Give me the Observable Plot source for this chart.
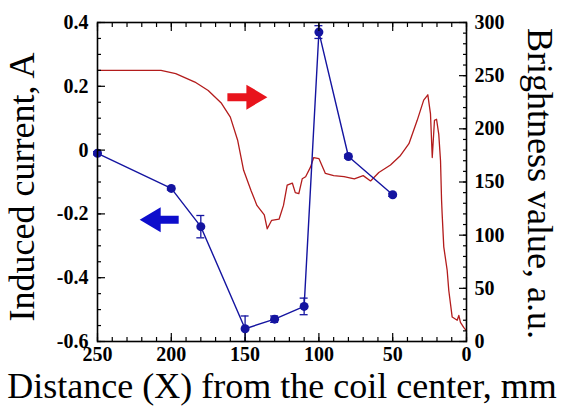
<!DOCTYPE html>
<html><head><meta charset="utf-8">
<script src="https://cdn.jsdelivr.net/npm/d3@7"></script>
<script src="https://cdn.jsdelivr.net/npm/@observablehq/plot@0.6"></script>
<style>body{margin:0;background:#fff} svg{display:block}</style>
</head><body><div id="chart"></div>
<script>
// Induced current (left axis)
const currentX = [250, 200, 180, 150, 130, 110, 100, 80, 50];
const currentY = [-0.01, -0.12, -0.24, -0.56, -0.53, -0.49, 0.37, -0.02, -0.14];
const currentErr = [0.005, 0.005, 0.035, 0.04, 0.01, 0.026, 0.02, 0.005, 0.005];

// Brightness value (right axis)
const brightX = [250, 207, 197, 184, 175, 166, 160, 155, 151, 146, 142, 137, 135, 132, 127, 124, 121.5, 118, 116, 113.6, 111.3, 109, 105.7, 103.5, 100, 95.6, 90, 83, 76, 70, 65, 59.4, 51.5, 44.7, 39, 33.4, 29, 26.2, 24.4, 23.2, 21.7, 20.3, 18.8, 17.6, 16.9, 16.5, 15.4, 13.1, 12, 9.7, 6.3, 5.2, 4.1, 1.8, 0];
const brightY = [255, 255, 252, 244, 236, 224, 211, 189, 161, 142, 128, 119, 106, 114, 115, 128, 147, 149, 140, 139, 153, 155, 164, 173, 172, 158, 156, 155, 153, 156, 151, 159, 166, 175, 186, 208, 227, 232, 214, 173, 208, 209, 195, 170, 133, 120, 89, 67, 48, 23, 20, 24.5, 18, 13, 10];

// Axes
const leftTicks = [0.4, 0.2, 0, -0.2, -0.4, -0.6];
const rightTicks = [0, 50, 100, 150, 200, 250, 300];
const xTicks = [250, 200, 150, 100, 50, 0];
const xTitle = "Distance (X) from the coil center, mm";
const leftTitle = "Induced current, A";
const rightTitle = "Brightness value, a.u.";

// Direction arrows (annotation)
const arrowRed = [{x: 162, y: 0.166, dir: 90}];
const arrowBlue = [{x: 195, y: -0.218, dir: -90}];

const yMin = -0.6, yMax = 0.4, bMax = 300;
const toY = b => yMin + (b / bMax) * (yMax - yMin);
const fromY = y => Math.round((y - yMin) / (yMax - yMin) * bMax);

const cur = currentX.map((x, i) => ({x, y: currentY[i], e: currentErr[i]}));
const bright = brightX.map((x, i) => ({x, b: brightY[i]}));

const blue = "#1414a0";
const red = "#b31c1c";
const font = "'Liberation Serif','Times New Roman',serif";

const arrowShape = {
  draw(context, l) {
    const w = 4, h = 12.5, hl = 21;
    context.moveTo(-w, 0);
    context.lineTo(-w, -l + hl);
    context.lineTo(-h, -l + hl);
    context.lineTo(0, -l);
    context.lineTo(h, -l + hl);
    context.lineTo(w, -l + hl);
    context.lineTo(w, 0);
    context.closePath();
  }
};

const minorY = d3.range(-12, 9).map(k => k * 0.05);
const minorB = d3.range(0, 31).map(k => toY(k * 10));
const minorX = d3.range(0, 26).map(k => k * 10);
const fmtLeft = d => d < 0 ? "-" + String(Math.abs(d)) : String(d);
const tickFont = {fontSize: 20, fontWeight: "bold", fontFamily: font, fill: "#000"};
const titleFont = {fontSize: 36, fontFamily: font, fill: "#000", textAnchor: "middle", lineAnchor: "middle"};

const plot = Plot.plot({
  width: 564, height: 406,
  marginLeft: 97, marginRight: 98, marginTop: 22, marginBottom: 65,
  style: {fontFamily: font, background: "#fff", color: "#000", overflow: "visible"},
  x: {domain: [250, 0]},
  y: {domain: [yMin, yMax]},
  marks: [
    Plot.line(bright, {x: "x", y: d => toY(d.b), stroke: red, strokeWidth: 1.3}),
    Plot.ruleX(cur, {x: "x", y1: d => d.y - d.e, y2: d => d.y + d.e, stroke: blue, strokeWidth: 1.3}),
    Plot.ruleY(cur, {y: d => d.y - d.e, x1: d => d.x + 2.7, x2: d => d.x - 2.7, stroke: blue, strokeWidth: 1.3}),
    Plot.ruleY(cur, {y: d => d.y + d.e, x1: d => d.x + 2.7, x2: d => d.x - 2.7, stroke: blue, strokeWidth: 1.3}),
    Plot.line(cur, {x: "x", y: "y", stroke: blue, strokeWidth: 1.4}),
    Plot.dot(cur, {x: "x", y: "y", r: 4.5, fill: blue}),
    Plot.vector(arrowRed, {x: "x", y: "y", rotate: "dir", length: 40, anchor: "start", shape: arrowShape, fill: "#e8141c", stroke: "none"}),
    Plot.vector(arrowBlue, {x: "x", y: "y", rotate: "dir", length: 39, anchor: "start", shape: arrowShape, fill: "#0d0dcc", stroke: "none"}),
    // left axis
    Plot.axisY({anchor: "left", ticks: minorY, tickSize: -4, text: null, label: null, strokeWidth: 1.2}),
    Plot.axisY({anchor: "left", ticks: leftTicks, tickSize: -8, text: null, label: null, strokeWidth: 1.2}),
    Plot.axisY({anchor: "left", ticks: leftTicks, tickSize: 0, tickPadding: 9, tickFormat: fmtLeft, label: null, ...tickFont}),
    // right axis (brightness)
    Plot.axisY({anchor: "right", ticks: minorB, tickSize: -4, text: null, label: null, strokeWidth: 1.2}),
    Plot.axisY({anchor: "right", ticks: rightTicks.map(toY), tickSize: -8, text: null, label: null, strokeWidth: 1.2}),
    Plot.axisY({anchor: "right", ticks: rightTicks.map(toY), tickSize: 0, tickPadding: 8, tickFormat: d => String(fromY(d)), label: null, ...tickFont}),
    // bottom and top x axes
    Plot.axisX({anchor: "bottom", ticks: minorX, tickSize: -4, text: null, label: null, strokeWidth: 1.2}),
    Plot.axisX({anchor: "bottom", ticks: xTicks, tickSize: -8, text: null, label: null, strokeWidth: 1.2}),
    Plot.axisX({anchor: "bottom", ticks: xTicks, tickSize: 0, tickPadding: 5, tickFormat: d => String(d), label: null, ...tickFont}),
    Plot.axisX({anchor: "top", ticks: minorX, tickSize: -4, text: null, label: null, strokeWidth: 1.2}),
    Plot.axisX({anchor: "top", ticks: xTicks, tickSize: -8, text: null, label: null, strokeWidth: 1.2}),
    Plot.frame({stroke: "#000", strokeWidth: 1.6}),
    // titles
    Plot.text([xTitle], {frameAnchor: "bottom", dy: 45, ...titleFont}),
    Plot.text([leftTitle], {frameAnchor: "left", rotate: -90, dx: -75, dy: 5, ...titleFont}),
    Plot.text([rightTitle], {frameAnchor: "right", rotate: 90, dx: 73, dy: 1.5, ...titleFont})
  ]
});
document.getElementById("chart").appendChild(plot);
</script>
</body></html>
